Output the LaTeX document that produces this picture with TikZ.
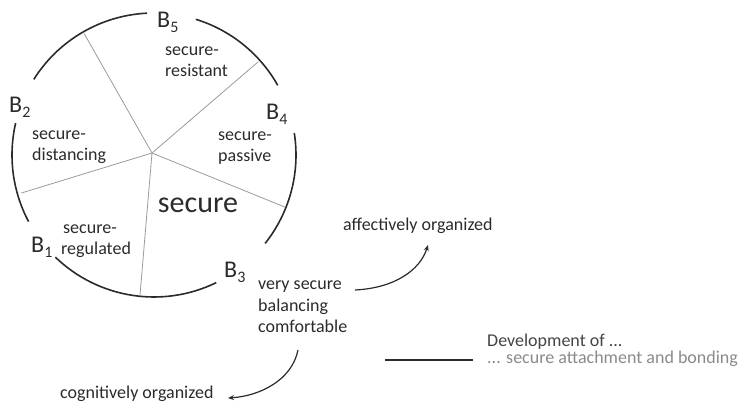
\documentclass[tikz,border=0pt]{standalone}
\usepackage{fontspec}
\setmainfont{Carlito}
\usetikzlibrary{arrows.meta,calc}
\definecolor{txt}{HTML}{2B2B2B}
\definecolor{spoke}{HTML}{9A9A9A}
\definecolor{legdark}{HTML}{444444}
\definecolor{leglight}{HTML}{8A8A8A}
\newcommand{\Blab}[1]{B\raisebox{-5pt}{\fontsize{16}{16}\selectfont #1}}
\begin{document}
\begin{tikzpicture}[x=1pt,y=1pt,
  rim/.style={line width=1.6pt, draw=txt},
  spk/.style={line width=0.8pt, draw=spoke},
  blabel/.style={anchor=base west, inner sep=0pt, text=txt, font=\fontsize{24}{26}\selectfont},
  small/.style={anchor=base west, inner sep=0pt, text=txt, align=left, font=\fontsize{18}{21.5}\selectfont},
  conn/.style={line width=1.2pt, draw=txt, -{Stealth[length=6pt,width=5pt]}}]
\useasboundingbox (0,0) rectangle (745,407);
\coordinate (c) at (154,252);
\coordinate (hub) at (152,254);
% rim arcs
\draw[rim] ($(c)+(29.4:142)$) arc[start angle=29.4, end angle=72.9, radius=142];
\draw[rim] ($(c)+(92.8:142)$) arc[start angle=92.8, end angle=147.8, radius=142];
\draw[rim] ($(c)+(167:142)$) arc[start angle=167, end angle=208, radius=142];
\draw[rim] ($(c)+(226:142)$) arc[start angle=226, end angle=296, radius=142];
\draw[rim] ($(c)+(-38.5:142)$) arc[start angle=-38.5, end angle=8.9, radius=142];
% spokes
\coordinate (s1) at ($(c)+(119.9:140)$);
\coordinate (s2) at ($(c)+(41.8:140)$);
\coordinate (s3) at ($(c)+(-21.7:141)$);
\coordinate (s4) at ($(c)+(-95.7:141)$);
\coordinate (s5) at ($(c)+(196:138)$);
\foreach \s in {s1,s2,s3,s4,s5} \draw[spk] (hub) -- (\s);
% B labels
\node[blabel] (b5) at (157,379) {\Blab{5}};
\node[blabel] (b4) at (266,287) {\Blab{4}};
\node[blabel] (b2) at (9,294) {\Blab{2}};
\node[blabel] (b1) at (31,154) {\Blab{1}};
\node[blabel] (b3) at (224,129) {\Blab{3}};
% sector labels (base = baseline of last line)
\node[small] (res) at (165,330) {secure-\\resistant};
\node[small] (dist) at (32,246) {secure-\\distancing};
\node[small] (pass) at (218,245) {secure-\\passive};
\node[small] (reg) at (61,152) {\hspace*{2pt}secure-\\regulated};
\node[anchor=base, inner sep=0pt, text=txt, font=\fontsize{30}{32}\selectfont] (sec) at (198,194) {secure};
\node[small] (b3t) at (258,74) {very secure\\balancing\\comfortable};
\node[small] (aff) at (343,176) {affectively organized};
\node[small] (cog) at (60,8) {cognitively organized};
% connectors
\coordinate (a1s) at (355,117);
\coordinate (a1e) at (428,162);
\coordinate (a2s) at (298,57);
\coordinate (a2e) at (228,9);
\draw[conn] (a1s) .. controls (395,119) and (420,137) .. (a1e);
\draw[conn] (a2s) .. controls (292,27) and (260,11) .. (a2e);
% legend
\coordinate (l1) at (385,47);
\coordinate (l2) at (473,47);
\draw[line width=1.6pt, draw=txt] (l1) -- (l2);
\node[small, text=legdark] (dev) at (487,60) {Development of ...};
\node[small, text=leglight] (att) at (487,43) {... secure attachment and bonding};
\end{tikzpicture}
\end{document}
